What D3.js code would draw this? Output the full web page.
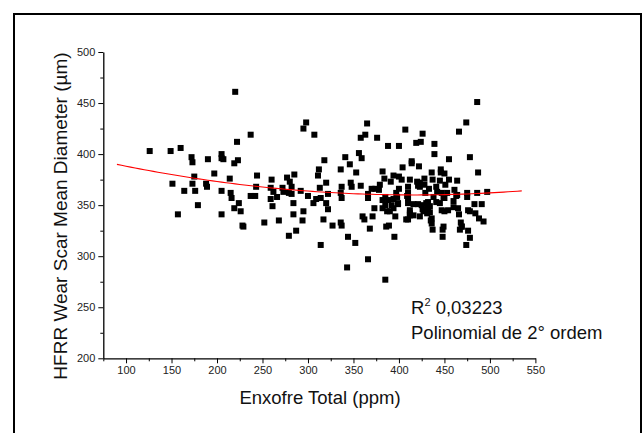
<!DOCTYPE html>
<html><head><meta charset="utf-8">
<script src="https://cdn.jsdelivr.net/npm/d3@7"></script>
<style>
html,body{margin:0;padding:0;background:#fff;}
svg{display:block;font-family:Arial,"Liberation Sans",sans-serif;}
</style></head>
<body>
<svg id="chart" width="643" height="433"></svg>
<script>
// ---- data ----
const sulfurPpm = [126,149,160,172,173,151,164,175,173,176,157,179,190,197,188,189,205,205,207,205,205,214,215,216,220,219,223,222,219,224,226,228,229,237,237,242,243,244,252,260,259,261,259,262,266,268,272,273,277,280,279,282,282,285,284,284,279,287,292,300,295,298,307,295,294,306,309,311,312,313,314,318,320,320,322,322,317,314,327,336,337,336,337,336,337,341,346,347,348,344,343,352,353,356,359,358,363,365,358,360,362,366,366,368,366,371,373,374,376,378,382,384,379,382,382,385,386,389,385,388,391,390,395,394,397,396,400,400,404,403,407,409,410,410,410,412,414,414,412,416,419,421,422,423,424,426,423,425,426,428,428,430,431,433,434,436,437,435,437,439,439,441,442,441,445,446,446,447,447,448,448,450,451,450,450,449,455,455,454,460,461,464,463,465,466,466,469,467,474,474,475,475,478,478,476,478,483,484,486,487,486,488,491,493,497,
394,392,399,387,394,423,410,421,431,432,427,412,460,445,449,438,453,464,400,370,388,385,398,399,410,412,416,408,429,432,420,434,436,469,476,436,468];
const wsdUm = [403,403,406,397,392,371,364,378,371,364,341,350,395,381,371,368,400,396,395,364,341,376,362,357,461,391,394,412,347,352,344,330,329,419,359,359,368,379,333,375,356,349,367,363,358,335,367,363,377,373,362,368,361,380,352,341,320,325,364,359,425,431,419,344,335,352,356,379,385,367,357,394,372,352,361,346,336,311,330,385,368,362,357,333,330,397,390,372,368,319,289,313,382,401,396,416,419,430,369,339,336,361,357,327,297,339,347,366,416,365,383,376,370,347,355,358,329,330,277,408,373,344,319,379,362,339,366,408,387,375,424,359,352,368,336,342,393,391,375,351,411,369,388,372,412,420,339,350,346,376,370,352,342,366,349,382,375,335,326,410,400,368,363,353,374,385,382,362,345,326,319,381,370,357,344,329,395,375,345,354,365,374,359,347,341,422,329,326,431,311,358,362,397,344,325,318,351,342,451,382,362,337,351,334,363,
356,350,351,344,347,368,362,351,348,344,344,340,348,352,357,358,362,360,378,366,355,350,358,352,357,345,340,336,362,353,373,343,337,329,345,332,333];
const fitCoef = [408.8, -0.2346, 0.000282]; // 2nd order polynomial a + b*x + c*x^2
const fitRange = [90, 535];
const xMajorTicks = [100,150,200,250,300,350,400,450,500,550];
const xMinorTicks = [75,125,175,225,275,325,375,425,475,525];
const yMajorTicks = [200,250,300,350,400,450,500];
const yMinorTicks = [225,275,325,375,425,475];
const xTitle = "Enxofre Total (ppm)";
const yTitle = "HFRR Wear Scar Mean Diameter (µm)";
const r2Text = "0,03223";
const fitLabel = "Polinomial de 2° ordem";

// ---- drawing ----
const svg = d3.select("#chart");
svg.append("rect").attr("x",14).attr("y",14).attr("width",627).attr("height",440)
  .attr("fill","none").attr("stroke","#000").attr("stroke-width",2);

const x = d3.scaleLinear().domain([75,550]).range([103.3,535.4]);
const y = d3.scaleLinear().domain([200,500]).range([358.3,52]);

// minor ticks
svg.append("g").attr("transform","translate(0,358.3)")
  .call(d3.axisBottom(x).tickValues(xMinorTicks).tickSize(3).tickFormat("").tickSizeOuter(0))
  .call(g=>g.select(".domain").remove());
svg.append("g").attr("transform","translate(103.3,0)")
  .call(d3.axisLeft(y).tickValues(yMinorTicks).tickSize(3).tickFormat("").tickSizeOuter(0))
  .call(g=>g.select(".domain").remove());

const xa = svg.append("g").attr("transform","translate(0,358.3)")
  .call(d3.axisBottom(x).tickValues(xMajorTicks).tickSize(5).tickSizeOuter(0).tickPadding(3));
const ya = svg.append("g").attr("transform","translate(103.3,0)")
  .call(d3.axisLeft(y).tickValues(yMajorTicks).tickSize(5).tickSizeOuter(0).tickPadding(3));
[xa,ya].forEach(a=>{
  a.selectAll("text").attr("font-size",11).attr("fill","#222").attr("font-family","Arial,'Liberation Sans',sans-serif");
  a.selectAll("line").attr("stroke","#000").attr("stroke-width",1);
  a.select(".domain").attr("stroke","#000").attr("stroke-width",1.3);
});

// points
const pts = sulfurPpm.map((v,i)=>({x:v,y:wsdUm[i]}));
svg.append("g").selectAll("rect").data(pts).join("rect")
  .attr("x",d=>x(d.x)-3).attr("y",d=>y(d.y)-3).attr("width",6).attr("height",6).attr("fill","#000");

// fit curve
const fx = d3.range(fitRange[0], fitRange[1]+0.1, 5);
const line = d3.line().x(d=>x(d)).y(d=>y(fitCoef[0]+fitCoef[1]*d+fitCoef[2]*d*d));
svg.append("path").datum(fx).attr("d",line).attr("fill","none").attr("stroke","#ff0000").attr("stroke-width",1.1);

// titles
svg.append("text").attr("x",320).attr("y",404).attr("text-anchor","middle")
  .attr("font-size",18.5).attr("fill","#111").text(xTitle);
svg.append("text").attr("transform","translate(67,216) rotate(-90)").attr("text-anchor","middle")
  .attr("font-size",19).attr("fill","#111").text(yTitle);

const t1 = svg.append("text").attr("x",411).attr("y",313.5).attr("font-size",18.5).attr("fill","#111");
t1.append("tspan").text("R");
t1.append("tspan").attr("font-size",11).attr("dy",-8).text("2");
t1.append("tspan").attr("dy",8).text(" " + r2Text);
svg.append("text").attr("x",411).attr("y",338.5).attr("font-size",18.5).attr("fill","#111").text(fitLabel);
</script>
</body></html>
